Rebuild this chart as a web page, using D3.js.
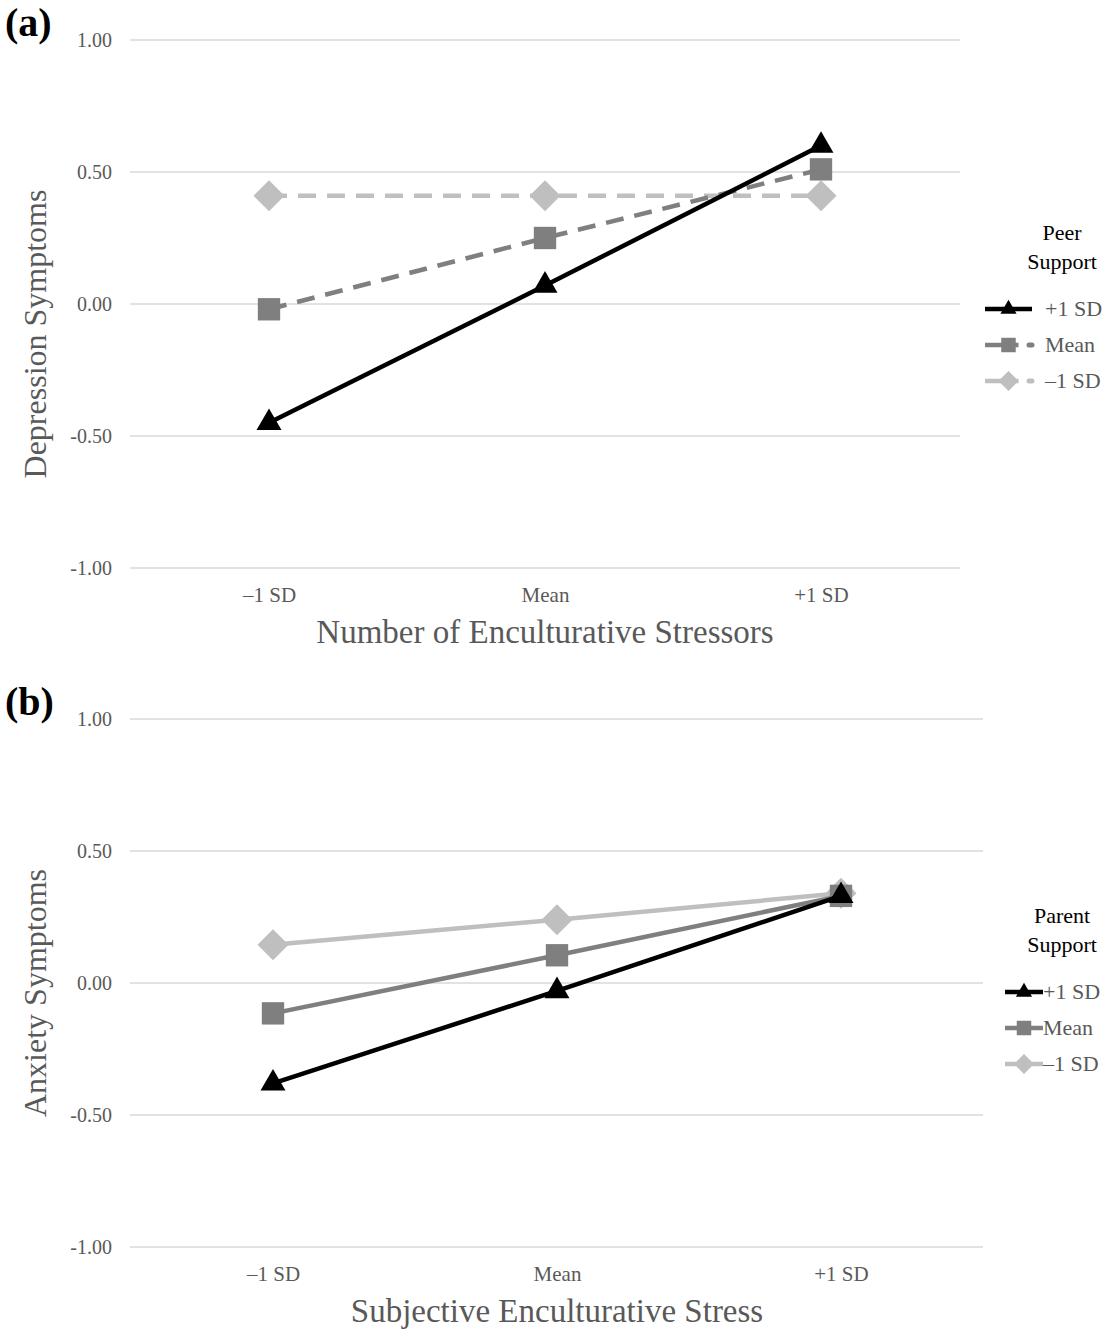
<!DOCTYPE html>
<html><head><meta charset="utf-8">
<script src="https://cdn.jsdelivr.net/npm/d3@7"></script>
<style>body{margin:0;background:#fff}</style>
</head><body>
<svg id="c" width="1116" height="1334"></svg>
<script>
const categories = ["\u20131 SD", "Mean", "+1 SD"];
const yTicks = [1.0, 0.5, 0.0, -0.5, -1.0];
const seriesNames = ["+1 SD", "Mean", "\u20131 SD"];
const depPlus = [-0.45, 0.07, 0.60];
const depMean = [-0.02, 0.25, 0.51];
const depMinus = [0.41, 0.41, 0.41];
const anxPlus = [-0.38, -0.03, 0.33];
const anxMean = [-0.115, 0.105, 0.33];
const anxMinus = [0.145, 0.24, 0.34];

const svg = d3.select("#c");
const colors = ["#000000", "#7f7f7f", "#bfbfbf"];
const diamond = {draw(ctx, size) { const r = Math.sqrt(size / 2); ctx.moveTo(0, -r); ctx.lineTo(r, 0); ctx.lineTo(0, r); ctx.lineTo(-r, 0); ctx.closePath(); }};
const shapes = [d3.symbolTriangle, d3.symbolSquare, diamond];
const sizes = [270, 500, 480];
const FONT = "Liberation Serif";

function panel(o) {
  const g = svg.append("g");
  const x = d3.scalePoint().domain(categories).range([o.x0, o.x1]);
  const y = d3.scaleLinear().domain([-1, 1]).range([o.yb, o.yt]);
  g.selectAll(".grid").data(yTicks).join("line")
    .attr("x1", o.gx0).attr("x2", o.gx1)
    .attr("y1", d => y(d)).attr("y2", d => y(d))
    .attr("stroke", "#d9d9d9").attr("stroke-width", 1.5);
  const ya = d3.axisLeft(y).tickValues(yTicks).tickFormat(d => d3.format(".2f")(d).replace("\u2212", "-")).tickSize(0).tickPadding(0);
  const yg = g.append("g").attr("transform", `translate(${o.gx0 - 18},0)`).call(ya);
  yg.select(".domain").remove();
  yg.selectAll("text").attr("font-family", FONT).attr("font-size", 20).attr("fill", "#595959");
  const xa = d3.axisBottom(x).tickSize(0).tickPadding(0);
  const xg = g.append("g").attr("transform", `translate(0,${o.yb + 19})`).call(xa);
  xg.select(".domain").remove();
  xg.selectAll("text").attr("font-family", FONT).attr("font-size", 21).attr("fill", "#595959");
  g.append("text").attr("x", (o.x0 + o.x1) / 2).attr("y", o.yb + 75).attr("text-anchor", "middle")
    .attr("font-family", FONT).attr("font-size", 33).attr("fill", "#595959").text(o.xTitle);
  g.append("text").attr("transform", `translate(46,${y(0) + o.ytOff}) rotate(-90)`).attr("text-anchor", "middle")
    .attr("font-family", FONT).attr("font-size", 32).attr("fill", "#595959").text(o.yTitle);
  g.append("text").attr("x", 5).attr("y", o.yt - 4).attr("font-family", FONT).attr("font-weight", "bold")
    .attr("font-size", 40).attr("fill", "#000").text(o.label);
  const line = d3.line().x((d, i) => x(categories[i])).y(d => y(d));
  [2, 1, 0].forEach(s => {
    const vals = o.series[s];
    g.append("path").datum(vals).attr("d", line).attr("fill", "none")
      .attr("stroke", colors[s]).attr("stroke-width", 4.5)
      .attr("stroke-dasharray", o.dashed[s] ? "18,11" : null);
    g.selectAll(null).data(vals).join("path")
      .attr("transform", (d, i) => `translate(${x(categories[i])},${y(d)})`)
      .attr("d", d3.symbol().type(shapes[s]).size(sizes[s])).attr("fill", colors[s]);
  });
  g.append("text").attr("x", o.lgCx).attr("y", o.lgY).attr("text-anchor", "middle")
    .attr("font-family", FONT).attr("font-size", 22).attr("fill", "#000").text(o.lgTitle);
  g.append("text").attr("x", o.lgCx).attr("y", o.lgY + 29).attr("text-anchor", "middle")
    .attr("font-family", FONT).attr("font-size", 22).attr("fill", "#000").text("Support");
  seriesNames.forEach((n, s) => {
    const ly = o.lgY + 69 + s * 36;
    const mx = (o.lx0 + o.lx1) / 2;
    g.append("line").attr("x1", o.lx0).attr("x2", o.dashed[s] ? mx + 10 : o.lx1).attr("y1", ly).attr("y2", ly)
      .attr("stroke", colors[s]).attr("stroke-width", 4.5);
    if (o.dashed[s]) {
      g.append("line").attr("x1", o.lx1 - 3).attr("x2", o.lx1).attr("y1", ly).attr("y2", ly)
        .attr("stroke", colors[s]).attr("stroke-width", 5).attr("stroke-linecap", "round");
    }
    g.append("path").attr("transform", `translate(${mx},${ly})`)
      .attr("d", d3.symbol().type(shapes[s]).size(sizes[s] * 0.42)).attr("fill", colors[s]);
    g.append("text").attr("x", o.ltx).attr("y", ly + 7).attr("font-family", FONT)
      .attr("font-size", 22).attr("fill", "#595959").text(n);
  });
}

panel({x0: 269, x1: 821, gx0: 130, gx1: 960, yt: 40, yb: 568, ytOff: 30,
  xTitle: "Number of Enculturative Stressors", yTitle: "Depression Symptoms", label: "(a)",
  series: [depPlus, depMean, depMinus], dashed: [false, true, true],
  lgTitle: "Peer", lgCx: 1062, lgY: 240, lx0: 985, lx1: 1032, ltx: 1045});
panel({x0: 273, x1: 841, gx0: 130, gx1: 983, yt: 719, yb: 1247, ytOff: 10,
  xTitle: "Subjective Enculturative Stress", yTitle: "Anxiety Symptoms", label: "(b)",
  series: [anxPlus, anxMean, anxMinus], dashed: [false, false, false],
  lgTitle: "Parent", lgCx: 1062, lgY: 923, lx0: 1005, lx1: 1043, ltx: 1043});
</script>
</body></html>
